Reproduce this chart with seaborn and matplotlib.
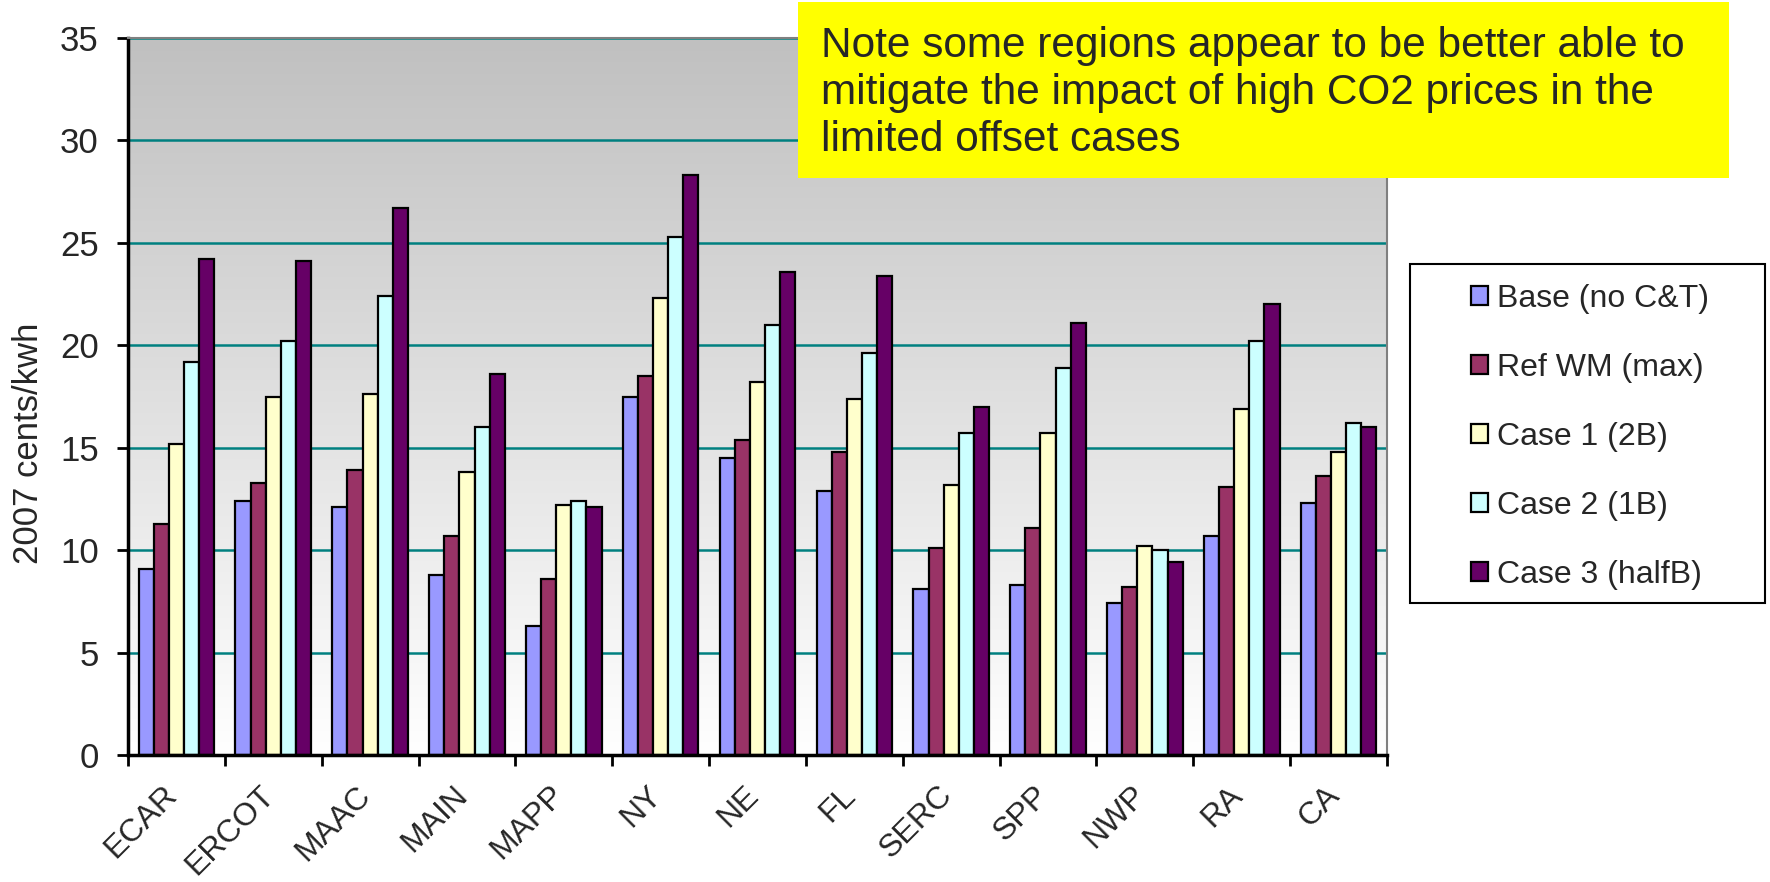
import numpy as np
import pandas as pd
import matplotlib
matplotlib.use("Agg")
import matplotlib.pyplot as plt
import matplotlib.transforms as mtransforms
from matplotlib.colors import LinearSegmentedColormap
from matplotlib.patches import Rectangle
import seaborn as sns

# Data (2007 cents/kwh)
regions = ["ECAR", "ERCOT", "MAAC", "MAIN", "MAPP", "NY", "NE",
           "FL", "SERC", "SPP", "NWP", "RA", "CA"]
cases = ["Base (no C&T)", "Ref WM (max)", "Case 1 (2B)", "Case 2 (1B)", "Case 3 (halfB)"]

base = [9.1, 12.4, 12.1, 8.8, 6.3, 17.5, 14.5, 12.9, 8.1, 8.3, 7.4, 10.7, 12.3]
ref_wm = [11.3, 13.3, 13.9, 10.7, 8.6, 18.5, 15.4, 14.8, 10.1, 11.1, 8.2, 13.1, 13.6]
case1 = [15.2, 17.5, 17.6, 13.8, 12.2, 22.3, 18.2, 17.4, 13.2, 15.7, 10.2, 16.9, 14.8]
case2 = [19.2, 20.2, 22.4, 16.0, 12.4, 25.3, 21.0, 19.6, 15.7, 18.9, 10.0, 20.2, 16.2]
case3 = [24.2, 24.1, 26.7, 18.6, 12.1, 28.3, 23.6, 23.4, 17.0, 21.1, 9.4, 22.0, 16.0]

colors = ["#9999FF", "#993366", "#FFFFCC", "#CCFFFF", "#660066"]
note = ("Note some regions appear to be better able to\n"
        "mitigate the impact of high CO2 prices in the\n"
        "limited offset cases")

df = pd.DataFrame({
    "region": regions * 5,
    "case": [c for c in cases for _ in regions],
    "value": base + ref_wm + case1 + case2 + case3,
})

sns.set_theme(style="white")
plt.rcParams["font.family"] = ["Liberation Sans", "DejaVu Sans"]

W, H = 1770, 882
fig = plt.figure(figsize=(W / 100, H / 100), dpi=100)
ax = fig.add_axes([128 / W, 1 - 755 / H, 1259 / W, 717 / H])

# grey-to-white gradient plot area
grad = np.linspace(0, 1, 256).reshape(-1, 1)
cmap = LinearSegmentedColormap.from_list("bg", ["#FFFFFF", "#C0C0C0"])
ax.imshow(grad, extent=(-0.5, 12.5, 0, 35), origin="lower", cmap=cmap,
          aspect="auto", zorder=0)

sns.barplot(data=df, x="region", y="value", hue="case", palette=colors,
            saturation=1, width=0.78, edgecolor="black", linewidth=1.6, ax=ax)

ax.set_xlim(-0.5, 12.5)
ax.set_ylim(0, 35)
ax.set_yticks(np.arange(0, 36, 5))
ax.yaxis.grid(True, color="#008080", linewidth=1.8)
ax.set_axisbelow(True)

for side in ["left", "bottom"]:
    ax.spines[side].set_color("black")
    ax.spines[side].set_linewidth(2.5)
for side in ["top", "right"]:
    ax.spines[side].set_color("#808080")
    ax.spines[side].set_linewidth(1.5)

ax.tick_params(axis="y", direction="out", length=8, width=2, color="black",
               labelsize=25, pad=13, left=True)
ax.set_xticks(range(len(regions)))
ax.set_xticklabels(regions, rotation=45, ha="right", fontsize=23)
ax.tick_params(axis="x", length=0, pad=18)
ax.set_xticks(np.arange(-0.5, 13, 1), minor=True)
ax.tick_params(axis="x", which="minor", direction="out", length=8, width=2,
               color="black", bottom=True)
shift = mtransforms.ScaledTranslation(7 / 100, 0, fig.dpi_scale_trans)
for lab in ax.get_xticklabels():
    lab.set_transform(lab.get_transform() + shift)

ax.set_xlabel("")
ax.set_ylabel("2007 cents/kwh", fontsize=25)
ax.yaxis.set_label_coords(-0.066, 0.435)

handles, labels = ax.get_legend_handles_labels()
if ax.get_legend() is not None:
    ax.get_legend().remove()
leg = fig.legend(handles, labels, loc="upper left",
                 bbox_to_anchor=(1471 / W, 1 - 284 / H),
                 fontsize=23, frameon=False,
                 handlelength=0.53, handleheight=0.53, handletextpad=0.28,
                 labelspacing=1.22, borderpad=0, borderaxespad=0)
# legend frame drawn as its own box
fig.patches.append(Rectangle((1410 / W, 1 - 603 / H), 355 / W, 339 / H,
                             transform=fig.transFigure, facecolor="white",
                             edgecolor="black", linewidth=1.5, zorder=0))

# yellow note box
fig.patches.append(Rectangle((798 / W, 1 - 178 / H), 931 / W, 176 / H,
                             transform=fig.transFigure, facecolor="#FFFF00",
                             edgecolor="none", zorder=5))
fig.text(821 / W, 1 - 26 / H, note, fontsize=30.5, va="top", ha="left",
         linespacing=1.22, zorder=6)

fig.savefig("out.png", dpi=100)
